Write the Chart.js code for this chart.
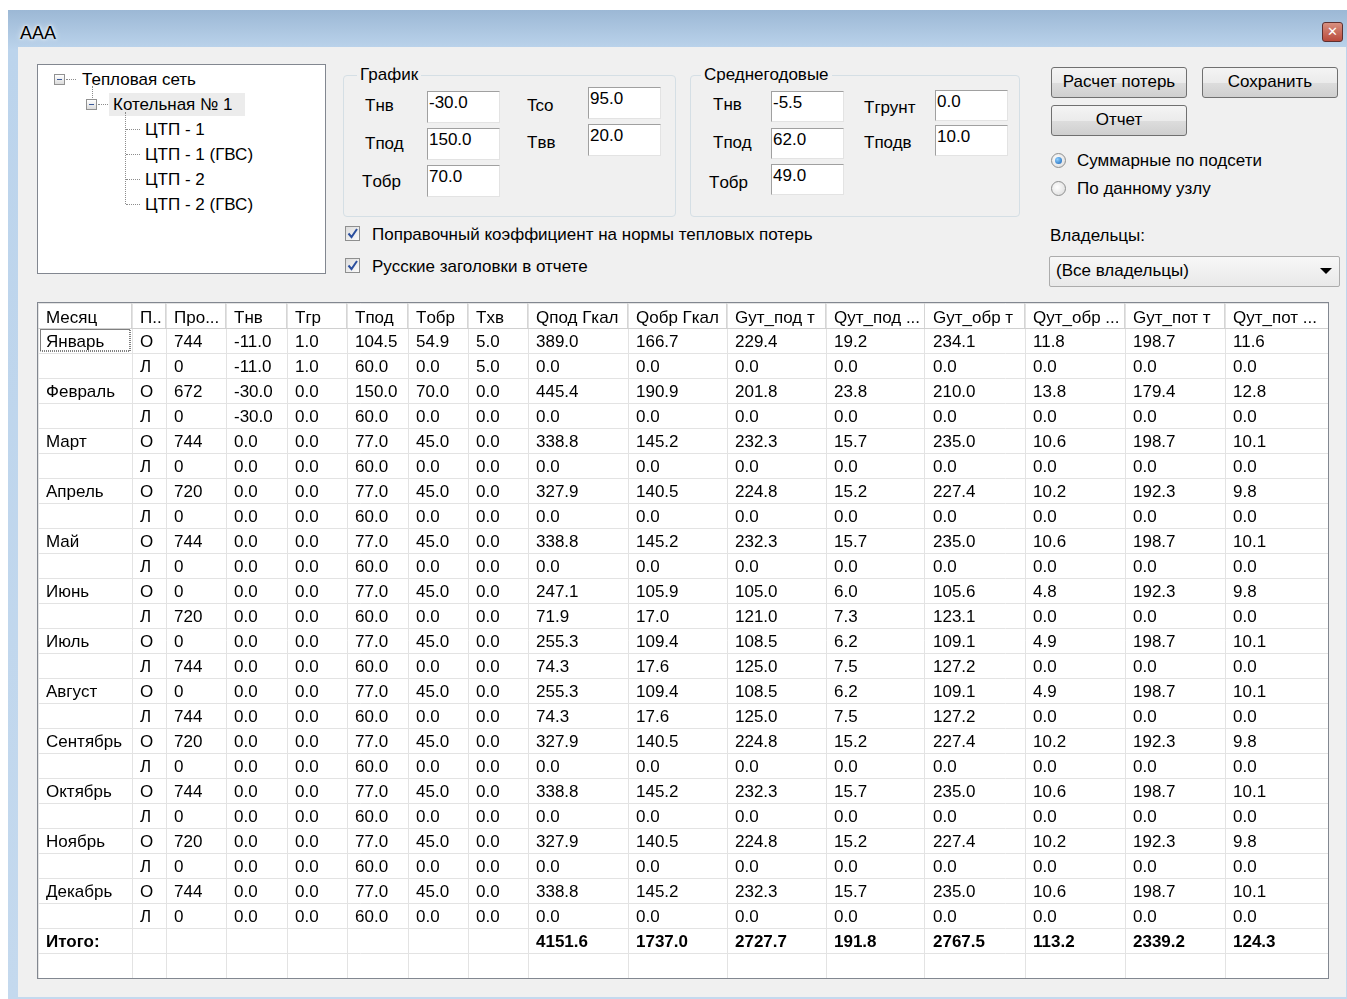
<!DOCTYPE html>
<html>
<head>
<meta charset="utf-8">
<script src="https://cdn.jsdelivr.net/npm/chart.js@4.4.1/dist/chart.umd.min.js"></script>
<style>
    body { margin: 0; width: 1347px; height: 999px; background: #fff; position: relative; overflow: hidden;
        font-family: "Liberation Sans", Arial, sans-serif; font-size: 17px; color: #000; }
    .abs { position: absolute; white-space: nowrap; }
    .frame { left: 8px; top: 10px; width: 1339px; height: 989px; background: linear-gradient(#9cb8d5, #bcd4ec 40px, #c4d9ee); }
    .client { left: 18px; top: 47px; width: 1328px; height: 950px; background: #f0f0f0; }
    .lbl { height: 20px; line-height: 20px; }
    .group { border: 1px solid #d5dfe5; border-radius: 4px; }
    .glbl { background: #f0f0f0; padding: 0 3px; }
    .edit { background: #fff; border-top: 1px solid #a0a0a0; border-left: 1px solid #a0a0a0;
        border-right: 1px solid #e3e3e3; border-bottom: 1px solid #e3e3e3; box-sizing: border-box;
        padding: 1px 0 0 1px; line-height: 20px; }
    .btn { box-sizing: border-box; border: 1px solid #707070; border-radius: 3px; text-align: center;
        background: linear-gradient(#f4f4f4, #ebebeb 50%, #dddddd 51%, #cfcfcf); line-height: 28px; }
    .chk { width: 15px; height: 15px; box-sizing: border-box; border: 1px solid #8e8f8f; background: linear-gradient(135deg, #dcdcdc, #fbfbfb); }
    .radio { width: 15px; height: 15px; box-sizing: border-box; border-radius: 50%; border: 1px solid #8e8f8f;
        background: radial-gradient(circle at 40% 40%, #fff, #d8d8d8); }
    .radio.on::after { content: ""; position: absolute; left: 3px; top: 3px; width: 7px; height: 7px; border-radius: 50%;
        background: radial-gradient(circle at 35% 35%, #8fd0ff, #135fb4); }
    .tbl { left: 37px; top: 302px; width: 1290px; height: 675px; border: 1px solid #828790; background: #fff; }
</style>
</head>
<body>
<div class="abs frame"></div>
<div class="abs client"></div>
<div class="abs lbl" style="left:20px;top:23px;font-size:18px;text-shadow:0 0 6px #fff,0 0 3px #fff;">AAA</div>
<div class="abs" style="left:1322px;top:22px;width:21px;height:20px;box-sizing:border-box;border:1px solid #5e3030;border-radius:3px;background:linear-gradient(#d89080,#b94a3c);color:#fff;font:bold 13px 'DejaVu Sans';text-align:center;line-height:18px;">✕</div>
<div id="ui"></div>
<div class="abs tbl"><canvas id="grid" width="1290" height="675"></canvas></div>

<script>
    // table columns
    const headers = ["Месяц", "П..", "Про...", "Tнв", "Tгр", "Tпод", "Tобр", "Tхв", "Qпод Гкал", "Qобр Гкал",
        "Gут_под т", "Qут_под ...", "Gут_обр т", "Qут_обр ...", "Gут_пот т", "Qут_пот ..."];
    const months = ["Январь", "", "Февраль", "", "Март", "", "Апрель", "", "Май", "", "Июнь", "",
        "Июль", "", "Август", "", "Сентябрь", "", "Октябрь", "", "Ноябрь", "", "Декабрь", ""];
    const modes = ["О", "Л", "О", "Л", "О", "Л", "О", "Л", "О", "Л", "О", "Л",
        "О", "Л", "О", "Л", "О", "Л", "О", "Л", "О", "Л", "О", "Л"];
    const hours = [744, 0, 672, 0, 744, 0, 720, 0, 744, 0, 0, 720, 0, 744, 0, 744, 720, 0, 744, 0, 720, 0, 744, 0];
    const tnv = [-11, -11, -30, -30, 0, 0, 0, 0, 0, 0, 0, 0, 0, 0, 0, 0, 0, 0, 0, 0, 0, 0, 0, 0];
    const tgr = [1, 1, 0, 0, 0, 0, 0, 0, 0, 0, 0, 0, 0, 0, 0, 0, 0, 0, 0, 0, 0, 0, 0, 0];
    const tpod = [104.5, 60, 150, 60, 77, 60, 77, 60, 77, 60, 77, 60, 77, 60, 77, 60, 77, 60, 77, 60, 77, 60, 77, 60];
    const tobr = [54.9, 0, 70, 0, 45, 0, 45, 0, 45, 0, 45, 0, 45, 0, 45, 0, 45, 0, 45, 0, 45, 0, 45, 0];
    const txv = [5, 5, 0, 0, 0, 0, 0, 0, 0, 0, 0, 0, 0, 0, 0, 0, 0, 0, 0, 0, 0, 0, 0, 0];
    const qpod = [389.0, 0, 445.4, 0, 338.8, 0, 327.9, 0, 338.8, 0, 247.1, 71.9, 255.3, 74.3, 255.3, 74.3, 327.9, 0, 338.8, 0, 327.9, 0, 338.8, 0];
    const qobr = [166.7, 0, 190.9, 0, 145.2, 0, 140.5, 0, 145.2, 0, 105.9, 17.0, 109.4, 17.6, 109.4, 17.6, 140.5, 0, 145.2, 0, 140.5, 0, 145.2, 0];
    const gutPod = [229.4, 0, 201.8, 0, 232.3, 0, 224.8, 0, 232.3, 0, 105.0, 121.0, 108.5, 125.0, 108.5, 125.0, 224.8, 0, 232.3, 0, 224.8, 0, 232.3, 0];
    const qutPod = [19.2, 0, 23.8, 0, 15.7, 0, 15.2, 0, 15.7, 0, 6.0, 7.3, 6.2, 7.5, 6.2, 7.5, 15.2, 0, 15.7, 0, 15.2, 0, 15.7, 0];
    const gutObr = [234.1, 0, 210.0, 0, 235.0, 0, 227.4, 0, 235.0, 0, 105.6, 123.1, 109.1, 127.2, 109.1, 127.2, 227.4, 0, 235.0, 0, 227.4, 0, 235.0, 0];
    const qutObr = [11.8, 0, 13.8, 0, 10.6, 0, 10.2, 0, 10.6, 0, 4.8, 0, 4.9, 0, 4.9, 0, 10.2, 0, 10.6, 0, 10.2, 0, 10.6, 0];
    const gutPot = [198.7, 0, 179.4, 0, 198.7, 0, 192.3, 0, 198.7, 0, 192.3, 0, 198.7, 0, 198.7, 0, 192.3, 0, 198.7, 0, 192.3, 0, 198.7, 0];
    const qutPot = [11.6, 0, 12.8, 0, 10.1, 0, 9.8, 0, 10.1, 0, 9.8, 0, 10.1, 0, 10.1, 0, 9.8, 0, 10.1, 0, 9.8, 0, 10.1, 0];
    const totalLabel = "Итого:";
    const totals = ["", "", "", "", "", "", "", "", 4151.6, 1737.0, 2727.7, 191.8, 2767.5, 113.2, 2339.2, 124.3];

    // form values
    const treeItems = ["Тепловая сеть", "Котельная № 1", "ЦТП - 1", "ЦТП - 1 (ГВС)", "ЦТП - 2", "ЦТП - 2 (ГВС)"];
    const grafikLabels = ["Tнв", "Tпод", "Tобр", "Tco", "Tвв"];
    const grafikValues = ["-30.0", "150.0", "70.0", "95.0", "20.0"];
    const avgLabels = ["Tнв", "Tпод", "Tобр", "Tгрунт", "Tподв"];
    const avgValues = ["-5.5", "62.0", "49.0", "0.0", "10.0"];

    // column widths in px (layout)
    const colWidths = [94, 34, 60, 61, 60, 61, 60, 60, 100, 99, 99, 99, 100, 100, 100, 103];
    const colEdges = [0];
    colWidths.forEach((w) => colEdges.push(colEdges[colEdges.length - 1] + w));

    const ui = document.getElementById("ui");
    function add(cls, x, y, text, style) {
        const d = document.createElement("div");
        d.className = "abs " + cls;
        d.style.left = x + "px";
        d.style.top = y + "px";
        if (style) d.style.cssText += style;
        if (text != null) d.textContent = text;
        ui.appendChild(d);
        return d;
    }

    // tree view
    add("", 37, 64, null, "width:289px;height:210px;box-sizing:border-box;border:1px solid #828790;background:#fff;");
    add("", 109, 93, null, "width:136px;height:23px;background:#ececec;");
    const minus = "width:11px;height:11px;box-sizing:border-box;border:1px solid #919191;background:linear-gradient(#fff,#dcdcdc);";
    add("", 54, 74, null, minus);
    add("", 57, 79, null, "width:5px;height:1px;background:#3c5a9a;");
    add("", 86, 99, null, minus);
    add("", 89, 104, null, "width:5px;height:1px;background:#3c5a9a;");
    const dotH = "height:0;border-top:1px dotted #8c8c8c;";
    add("", 66, 79, null, dotH + "width:10px;");
    add("", 98, 104, null, dotH + "width:10px;");
    add("", 92, 86, null, "width:0;height:12px;border-left:1px dotted #8c8c8c;");
    add("", 125, 112, null, "width:0;height:92px;border-left:1px dotted #8c8c8c;");
    [129, 154, 179, 204].forEach((y) => add("", 126, y, null, dotH + "width:14px;"));
    const treeX = [82, 113, 145, 145, 145, 145];
    treeItems.forEach((t, i) => add("lbl", treeX[i], 70 + i * 25, t));

    // group boxes
    add("group", 343, 75, null, "width:331px;height:140px;");
    add("lbl glbl", 357, 65, "График");
    add("group", 690, 75, null, "width:328px;height:140px;");
    add("lbl glbl", 701, 65, "Среднегодовые");

    const grafikPos = [[365, 96, 427, 91], [365, 134, 427, 128], [362, 172, 427, 165], [527, 96, 588, 87], [527, 133, 588, 124]];
    grafikPos.forEach((p, i) => {
        add("lbl", p[0], p[1], grafikLabels[i]);
        add("edit", p[2], p[3], grafikValues[i], "width:73px;height:32px;");
    });
    const avgPos = [[713, 95, 771, 91], [713, 133, 771, 128], [709, 173, 771, 164], [864, 98, 935, 90], [864, 133, 935, 125]];
    avgPos.forEach((p, i) => {
        add("lbl", p[0], p[1], avgLabels[i]);
        add("edit", p[2], p[3], avgValues[i], "width:73px;height:31px;");
    });

    // checkboxes
    const tick = '<svg width="13" height="13" style="position:absolute;left:0;top:0"><path d="M2.5 6.5 L5.5 10 L11 2" stroke="#2b4f9e" stroke-width="2" fill="none"/></svg>';
    [226, 258].forEach((y) => { add("chk", 345, y, null).innerHTML = tick; });
    add("lbl", 372, 225, "Поправочный коэффициент на нормы тепловых потерь");
    add("lbl", 372, 257, "Русские заголовки в отчете");

    // buttons, radios, combo
    add("btn", 1051, 67, "Расчет потерь", "width:136px;height:31px;");
    add("btn", 1202, 67, "Сохранить", "width:136px;height:31px;");
    add("btn", 1051, 105, "Отчет", "width:136px;height:31px;");
    add("radio on", 1051, 153, null);
    add("radio", 1051, 181, null);
    add("lbl", 1077, 151, "Суммарные по подсети");
    add("lbl", 1077, 179, "По данному узлу");
    add("lbl", 1050, 226, "Владельцы:");
    add("", 1049, 256, null, "width:291px;height:31px;box-sizing:border-box;border:1px solid #acacac;border-radius:2px;background:linear-gradient(#f7f7f7,#e9e9e9);");
    add("lbl", 1056, 261, "(Все владельцы)");
    add("", 1320, 268, null, "width:0;height:0;border-left:6px solid transparent;border-right:6px solid transparent;border-top:6px solid #000;");

    // table grid through chart.js scales
    const columns = [months, modes, hours, tnv, tgr, tpod, tobr, txv, qpod, qobr, gutPod, qutPod, gutObr, qutObr, gutPot, qutPot];
    const nRows = months.length + 3;

    function fmt(col, v) {
        if (typeof v === "string") return v;
        return col === 2 ? String(v) : v.toFixed(1);
    }

    const cellText = {
        id: "cellText",
        afterDraw(chart) {
            const ctx = chart.ctx;
            const xs = chart.scales.x;
            const ys = chart.scales.y;
            ctx.save();
            ctx.textBaseline = "middle";
            ctx.textAlign = "left";
            // header separators
            ctx.fillStyle = "#d5d5d5";
            colEdges.slice(1, -1).forEach((e) => {
                ctx.fillRect(Math.round(xs.getPixelForValue(e)) - 1, ys.getPixelForValue(0), 1, ys.getPixelForValue(1) - ys.getPixelForValue(0));
            });
            ctx.fillStyle = "#000";
            ctx.font = '17px "Liberation Sans"';
            headers.forEach((h, c) => {
                ctx.fillText(h, xs.getPixelForValue(colEdges[c]) + 8, ys.getPixelForValue(0.5) + 3);
            });
            columns.forEach((col, c) => {
                col.forEach((v, r) => {
                    ctx.fillText(fmt(c, v), xs.getPixelForValue(colEdges[c]) + 8, ys.getPixelForValue(r + 1.5) + 2);
                });
            });
            ctx.font = 'bold 17px "Liberation Sans"';
            const ty = ys.getPixelForValue(months.length + 1.5) + 2;
            ctx.fillText(totalLabel, xs.getPixelForValue(0) + 8, ty);
            totals.forEach((v, c) => {
                if (v !== "") ctx.fillText(fmt(c, v), xs.getPixelForValue(colEdges[c]) + 8, ty);
            });
            // focus rectangle on the first cell
            ctx.strokeStyle = "#000";
            ctx.setLineDash([1, 1]);
            ctx.lineWidth = 1;
            const fx = xs.getPixelForValue(colEdges[0]) + 2.5;
            const fy = ys.getPixelForValue(1) + 1.5;
            ctx.strokeRect(fx, fy, xs.getPixelForValue(colEdges[1]) - fx - 2, ys.getPixelForValue(2) - fy - 2);
            ctx.restore();
        }
    };

    new Chart(document.getElementById("grid").getContext("2d"), {
        type: "scatter",
        data: { datasets: [] },
        options: {
            responsive: false,
            animation: false,
            events: [],
            layout: { padding: 0 },
            plugins: { legend: { display: false }, tooltip: { enabled: false } },
            scales: {
                x: {
                    type: "linear",
                    min: 0,
                    max: colEdges[colEdges.length - 1],
                    afterBuildTicks: (axis) => { axis.ticks = colEdges.map((v) => ({ value: v })); },
                    ticks: { display: false },
                    border: { display: false },
                    grid: { color: "#e3e3e3", drawTicks: false }
                },
                y: {
                    type: "linear",
                    reverse: true,
                    min: 0,
                    max: nRows,
                    afterBuildTicks: (axis) => {
                        axis.ticks = Array.from({ length: nRows + 1 }, (_, i) => ({ value: i }));
                    },
                    ticks: { display: false },
                    border: { display: false },
                    grid: { color: (c) => (c.tick && c.tick.value === 1 ? "#d0d0d0" : "#e3e3e3"), drawTicks: false }
                }
            }
        },
        plugins: [cellText]
    });
</script>
</body>
</html>
